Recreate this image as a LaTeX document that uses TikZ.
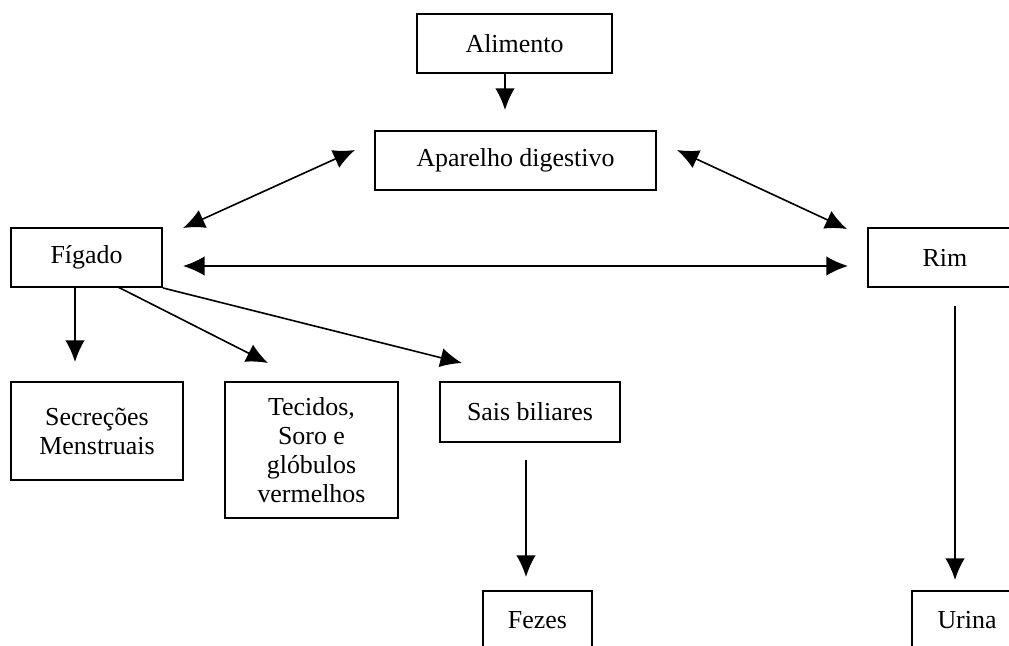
\documentclass[tikz,border=0pt]{standalone}
\usepackage{fontspec}
\setmainfont{Liberation Serif}
\usepackage{tikz}
\usetikzlibrary{arrows.meta}
\tikzset{ caixa/.style = {rectangle, draw, line width=0.9pt, align=center, inner sep=0pt, font=\fontsize{12}{13.5}\selectfont} }
\tikzset{ seta/.style = {line width=0.75pt, -{Latex[length=10pt,width=9pt]}} }
\tikzset{ seta_dupla/.style = {line width=0.75pt, {Latex[length=10pt,width=9pt]}-{Latex[length=10pt,width=9pt]}} }

\begin{document}
\begin{tikzpicture}[x=0.463pt, y=-0.463pt]
\useasboundingbox (0,0) rectangle (1009,645);
\node[caixa, minimum width=90.3pt, minimum height=27.3pt] (alimento) at (514.5,43.5) {Alimento};
\node[caixa, minimum width=130.1pt, minimum height=27.3pt] (aparelho) at (515.5,160.5) {Aparelho digestivo};
\node[caixa, minimum width=69.9pt, minimum height=27.3pt] (figado) at (86.5,257.5) {Fígado};
\node[caixa, minimum width=71.3pt, minimum height=27.3pt] (rim) at (945,257.5) {Rim};
\node[caixa, minimum width=79.6pt, minimum height=45.4pt] (secrecoes) at (97,431) {Secreções\\Menstruais};
\node[caixa, minimum width=80.1pt, minimum height=63pt] (tecidos) at (311.5,450) {Tecidos,\\Soro e\\glóbulos\\vermelhos};
\node[caixa, minimum width=83.3pt, minimum height=27.8pt] (sais) at (530,412) {Sais biliares};
\node[caixa, minimum width=50.5pt, minimum height=27.3pt] (fezes) at (537.5,620.5) {Fezes};
\node[caixa, minimum width=50.9pt, minimum height=27.3pt] (urina) at (967,620.5) {Urina};
% pontas soltas das setas
\coordinate (alimento_out) at (505,73);
\coordinate (aparelho_in) at (505,110);
\coordinate (figado_ne) at (183,228);
\coordinate (aparelho_w) at (355,150);
\coordinate (aparelho_e) at (677,150);
\coordinate (rim_nw) at (847,229);
\coordinate (figado_e) at (183,266);
\coordinate (rim_w) at (848,266);
\coordinate (figado_s1) at (75,287);
\coordinate (figado_s2) at (118,287);
\coordinate (secrecoes_in) at (75,362);
\coordinate (tecidos_in) at (268,363);
\coordinate (sais_in) at (462,363);
\coordinate (sais_out) at (526,460);
\coordinate (fezes_in) at (526,577);
\coordinate (rim_out) at (955,306);
\coordinate (urina_in) at (955,580);
\draw[seta] (alimento_out) -- (aparelho_in);
\draw[seta_dupla] (figado_ne) -- (aparelho_w);
\draw[seta_dupla] (aparelho_e) -- (rim_nw);
\draw[seta_dupla] (figado_e) -- (rim_w);
\draw[seta] (figado_s1) -- (secrecoes_in);
\draw[seta] (figado_s2) -- (tecidos_in);
\draw[seta] (figado.south east) -- (sais_in);
\draw[seta] (sais_out) -- (fezes_in);
\draw[seta] (rim_out) -- (urina_in);
\end{tikzpicture}
\end{document}
